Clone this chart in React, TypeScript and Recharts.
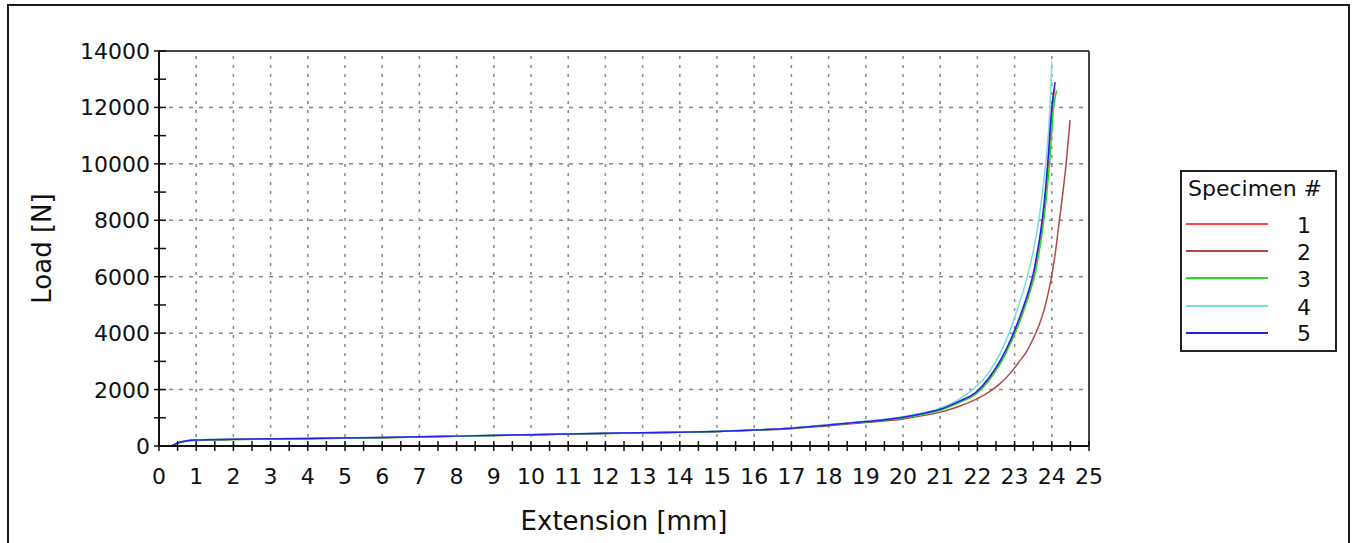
import React from 'react'
import { LineChart, Line, XAxis, YAxis, ReferenceLine } from 'recharts'

// Load vs extension (mm, N)
const spec1Ext = [0, 0.3, 0.5, 0.75, 1, 2, 4, 6, 8, 10, 12, 14, 15, 16, 17, 18, 19, 20, 20.5, 21, 21.5, 22, 22.3, 22.6, 22.8, 23, 23.2, 23.4, 23.52, 23.62, 23.72, 23.82, 23.92, 24.02, 24.08]
const spec1Load = [0, 0, 110, 185, 210, 235, 265, 300, 350, 400, 450, 490, 515, 565, 630, 745, 860, 1010, 1130, 1290, 1560, 1920, 2350, 2940, 3440, 4020, 4700, 5500, 6100, 6800, 7620, 8720, 10200, 12000, 12700]

const spec2Ext = [0, 0.3, 0.5, 0.75, 1, 2, 4, 6, 8, 10, 12, 14, 15, 16, 17, 18, 19, 20, 21, 21.5, 22, 22.3, 22.6, 22.9, 23.1, 23.3, 23.5, 23.65, 23.8, 23.9, 24.0, 24.1, 24.2, 24.3, 24.4, 24.49]
const spec2Load = [0, 0, 105, 180, 205, 230, 260, 295, 345, 395, 445, 485, 510, 555, 615, 720, 830, 960, 1200, 1400, 1680, 1900, 2200, 2600, 2950, 3300, 3800, 4250, 4850, 5400, 6050, 6900, 7950, 9000, 10200, 11550]

const spec3Ext = [0, 0.3, 0.5, 0.75, 1, 2, 4, 6, 8, 10, 12, 14, 15, 16, 17, 18, 19, 20, 20.5, 21, 21.5, 22, 22.3, 22.6, 22.8, 23, 23.2, 23.4, 23.55, 23.65, 23.75, 23.85, 23.95, 24.05, 24.13]
const spec3Load = [0, 0, 105, 180, 205, 230, 260, 295, 345, 395, 445, 485, 510, 560, 625, 740, 855, 1000, 1120, 1270, 1530, 1880, 2300, 2880, 3380, 3950, 4620, 5400, 6100, 6800, 7650, 8750, 10200, 12000, 12600]

const spec4Ext = [0, 0.3, 0.5, 0.75, 1, 2, 4, 6, 8, 10, 12, 14, 15, 16, 17, 18, 19, 20, 20.5, 21, 21.5, 22, 22.3, 22.6, 22.85, 23.1, 23.3, 23.5, 23.65, 23.75, 23.85, 23.95, 24.0]
const spec4Load = [0, 0, 115, 190, 215, 240, 270, 305, 355, 405, 455, 495, 520, 570, 640, 760, 880, 1040, 1170, 1340, 1650, 2150, 2600, 3250, 4000, 4950, 5800, 6900, 8000, 9000, 10200, 12000, 13620]

const spec5Ext = [0, 0.3, 0.5, 0.75, 1, 2, 4, 6, 8, 10, 12, 14, 15, 16, 17, 18, 19, 20, 20.5, 21, 21.5, 22, 22.3, 22.6, 22.8, 23, 23.2, 23.4, 23.5, 23.6, 23.7, 23.8, 23.9, 24.0, 24.09]
const spec5Load = [0, 0, 110, 185, 210, 235, 265, 300, 350, 400, 450, 490, 515, 565, 630, 745, 865, 1020, 1140, 1300, 1580, 1950, 2400, 3000, 3500, 4100, 4800, 5600, 6100, 6800, 7600, 8700, 10200, 12000, 12900]

const specimenNames = ['1', '2', '3', '4', '5']
const specimenColors = ['#ff4444', '#b04848', '#22dd22', '#77dddd', '#2222ee']

const xMajorTicks = [0, 1, 2, 3, 4, 5, 6, 7, 8, 9, 10, 11, 12, 13, 14, 15, 16, 17, 18, 19, 20, 21, 22, 23, 24, 25]
const yMajorTicks = [0, 2000, 4000, 6000, 8000, 10000, 12000, 14000]

const xTicks = xMajorTicks.flatMap((t) => (t < 25 ? [t, t + 0.5] : [t]))
const yTicks = yMajorTicks.flatMap((t) => (t < 14000 ? [t, t + 1000] : [t]))

const FONT = '"DejaVu Sans", Verdana, sans-serif'

const toPoints = (ext: number[], load: number[]) => ext.map((x, i) => ({ x, y: load[i] }))

const series = [
  toPoints(spec1Ext, spec1Load),
  toPoints(spec2Ext, spec2Load),
  toPoints(spec3Ext, spec3Load),
  toPoints(spec4Ext, spec4Load),
  toPoints(spec5Ext, spec5Load),
]

function XTick({ x, y, payload }: any) {
  const v = payload.value
  return (
    <g>
      <line x1={x} x2={x} y1={y - 5} y2={y + 5} stroke="#111" strokeWidth={1.5} />
      {Number.isInteger(v) && (
        <text x={x} y={y + 38} textAnchor="middle" fontSize={22} fill="#111" fontFamily={FONT}>
          {v}
        </text>
      )}
    </g>
  )
}

function YTick({ x, y, payload }: any) {
  const v = payload.value
  return (
    <g>
      <line x1={x - 5} x2={x + 7} y1={y} y2={y} stroke="#111" strokeWidth={1.5} />
      {v % 2000 === 0 && (
        <text x={x - 9} y={y + 8} textAnchor="end" fontSize={22} fill="#111" fontFamily={FONT}>
          {v}
        </text>
      )}
    </g>
  )
}

export default function App() {
  return (
    <div style={{ position: 'absolute', left: 0, top: 0, width: 1357, height: 543, overflow: 'hidden', background: '#fff' }}>
      <div
        style={{
          position: 'absolute',
          left: 7,
          top: 4,
          width: 1343,
          height: 600,
          boxSizing: 'border-box',
          border: '2px solid #1a1a1a',
        }}
      />
      <div style={{ position: 'absolute', left: 0, top: 0 }}>
        <LineChart width={1357} height={543} margin={{ top: 51, right: 268, bottom: 0, left: 0 }}>
          <XAxis
            dataKey="x"
            type="number"
            domain={[0, 25]}
            ticks={xTicks}
            interval={0}
            tick={<XTick />}
            tickLine={false}
            tickSize={0}
            tickMargin={0}
            height={97}
            axisLine={{ stroke: '#111', strokeWidth: 2 }}
            allowDataOverflow
            label={{
              content: ({ viewBox }: any) => (
                <text
                  x={viewBox.x + viewBox.width / 2}
                  y={viewBox.y + viewBox.height - 13}
                  textAnchor="middle"
                  fontSize={26}
                  fill="#111"
                  fontFamily={FONT}
                >
                  Extension [mm]
                </text>
              ),
            }}
          />
          <YAxis
            dataKey="y"
            type="number"
            domain={[0, 14000]}
            ticks={yTicks}
            interval={0}
            tick={<YTick />}
            tickLine={false}
            tickSize={0}
            tickMargin={0}
            width={159}
            axisLine={{ stroke: '#111', strokeWidth: 2 }}
            allowDataOverflow
            label={{
              content: ({ viewBox }: any) => {
                const cx = 42
                const cy = viewBox.y + viewBox.height / 2
                return (
                  <text
                    x={cx}
                    y={cy}
                    transform={`rotate(-90 ${cx} ${cy})`}
                    textAnchor="middle"
                    dominantBaseline="central"
                    fontSize={26}
                    fill="#111"
                    fontFamily={FONT}
                  >
                    Load [N]
                  </text>
                )
              },
            }}
          />
          {xMajorTicks.slice(1, -1).map((t) => (
            <ReferenceLine key={`gx-${t}`} x={t} stroke="#888" strokeWidth={1.5} strokeDasharray="3 6" />
          ))}
          {yMajorTicks.slice(1, -1).map((t) => (
            <ReferenceLine key={`gy-${t}`} y={t} stroke="#888" strokeWidth={1.5} strokeDasharray="4 6" />
          ))}
          <ReferenceLine y={14000} stroke="#444" strokeWidth={2} />
          <ReferenceLine x={25} stroke="#444" strokeWidth={2} />
          {series.map((pts, i) => (
            <Line
              key={specimenNames[i]}
              data={pts}
              dataKey="y"
              name={specimenNames[i]}
              type="monotone"
              stroke={specimenColors[i]}
              strokeWidth={1.5}
              dot={false}
              isAnimationActive={false}
            />
          ))}
        </LineChart>
      </div>
      <div
        style={{
          position: 'absolute',
          left: 1180,
          top: 170,
          width: 157,
          height: 182,
          boxSizing: 'border-box',
          border: '2px solid #222',
          fontFamily: FONT,
          color: '#111',
        }}
      >
        <div style={{ position: 'absolute', left: 6, top: 4, fontSize: 22, whiteSpace: 'nowrap' }}>Specimen #</div>
        {specimenNames.map((name, i) => (
          <React.Fragment key={name}>
            <div
              style={{
                position: 'absolute',
                left: 4,
                top: [51, 78, 105, 133, 160][i],
                width: 82,
                height: 2,
                background: specimenColors[i],
              }}
            />
            <div
              style={{
                position: 'absolute',
                left: 110,
                top: [41, 68, 95, 123, 149][i],
                width: 24,
                textAlign: 'center',
                fontSize: 22,
              }}
            >
              {name}
            </div>
          </React.Fragment>
        ))}
      </div>
    </div>
  )
}
